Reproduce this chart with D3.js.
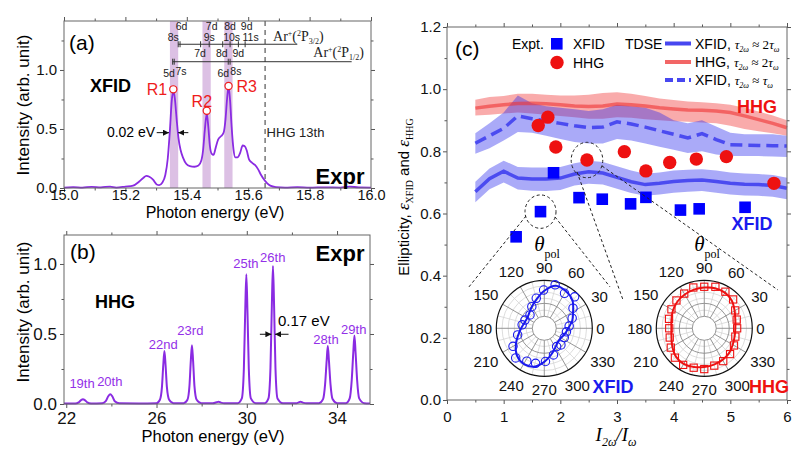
<!DOCTYPE html>
<html>
<head>
<meta charset="utf-8">
<script src="https://cdn.jsdelivr.net/npm/d3@7"></script>
<style>
  body { margin: 0; background: #fff; }
  svg { font-family: "Liberation Sans", Arial, sans-serif; }
  .serif { font-family: "Liberation Serif", "Times New Roman", serif; }
</style>
</head>
<body>
<svg id="chart" width="800" height="459"></svg>
<script>
// ---------- panel (a): XFID spectrum ----------
const xfidSpectrum = [
  [15.00,0.004],[15.03,0.008],[15.06,0.003],[15.09,0.010],[15.12,0.006],[15.15,0.012],[15.17,0.004],
  [15.20,0.012],[15.225,0.020],[15.245,0.055],[15.258,0.085],[15.268,0.102],[15.278,0.095],[15.29,0.070],
  [15.302,0.030],[15.31,0.025],[15.32,0.045],[15.33,0.110],[15.338,0.250],[15.345,0.490],[15.351,0.740],
  [15.356,0.820],[15.361,0.760],[15.367,0.580],[15.373,0.420],[15.38,0.320],[15.388,0.255],[15.398,0.205],
  [15.41,0.185],[15.425,0.180],[15.438,0.190],[15.447,0.230],[15.453,0.320],[15.459,0.500],[15.465,0.633],
  [15.470,0.520],[15.475,0.360],[15.481,0.290],[15.487,0.280],[15.494,0.340],[15.502,0.410],[15.512,0.440],
  [15.52,0.470],[15.526,0.580],[15.531,0.750],[15.536,0.860],[15.541,0.740],[15.546,0.520],[15.552,0.330],
  [15.558,0.260],[15.565,0.260],[15.574,0.300],[15.582,0.360],[15.588,0.355],[15.595,0.320],[15.603,0.240],
  [15.612,0.215],[15.622,0.195],[15.632,0.160],[15.642,0.110],[15.652,0.070],[15.662,0.040],[15.672,0.020],
  [15.69,0.008],[15.72,0.004],[15.76,0.007],[15.80,0.003],[15.85,0.006],[15.90,0.004],[15.93,0.012],
  [15.96,0.005],[16.00,0.004]
];
const resonanceBands = [[15.345,15.372],[15.451,15.478],[15.522,15.549]];
const resonanceMarks = [["R1",15.356,0.836,15.303,0.788],["R2",15.465,0.655,15.449,0.690],["R3",15.536,0.864,15.595,0.814]];
const hhg13thEnergy = 15.655;
// Ar Rydberg ladder (energies in eV)
const upperBar = [15.372, 15.760];
const lowerBar = [15.354, 15.937];
const upperTicks = [15.372, 15.378, 15.445, 15.473, 15.517, 15.541, 15.568, 15.590];
const lowerTicks = [15.354, 15.359, 15.535, 15.541];
const upperTopLabels = [["6d",15.383],["7d",15.481],["8d",15.541],["9d",15.595]];
const upperMidLabels = [["8s",15.356],["9s",15.473],["10s",15.546],["11s",15.608]];
const betweenLabels = [["7d",15.443],["8d",15.514],["9d",15.568]];
const lowerLabels = [["5d",15.342,15.5],["7s",15.381,13],["6d",15.519,15.5],["8s",15.560,13]];

// ---------- panel (b): HHG spectrum ----------
const hhgSpectrum = [
  [21.9,0.003],[22.4,0.004],[22.55,0.012],[22.66,0.028],[22.74,0.034],[22.82,0.028],[22.93,0.012],[23.1,0.004],
  [23.6,0.006],[23.75,0.020],[23.86,0.055],[23.95,0.070],[24.04,0.055],[24.15,0.020],[24.35,0.005],[25.2,0.004],
  [26.0,0.006],[26.15,0.030],[26.24,0.120],[26.30,0.280],[26.35,0.379],[26.40,0.280],[26.46,0.120],[26.56,0.030],
  [26.75,0.006],[27.2,0.006],[27.37,0.030],[27.46,0.130],[27.52,0.310],[27.57,0.420],[27.62,0.310],[27.68,0.130],
  [27.78,0.030],[27.98,0.006],[28.5,0.005],[28.65,0.012],[28.75,0.016],[28.85,0.010],[29.0,0.005],[29.6,0.006],
  [29.78,0.040],[29.87,0.250],[29.93,0.660],[29.98,0.926],[30.03,0.660],[30.09,0.250],[30.18,0.040],[30.4,0.006],
  [30.8,0.006],[30.96,0.040],[31.05,0.260],[31.11,0.700],[31.16,0.986],[31.21,0.700],[31.27,0.260],[31.36,0.040],
  [31.6,0.006],[32.2,0.005],[32.3,0.012],[32.38,0.016],[32.48,0.010],[32.65,0.005],[33.2,0.006],[33.38,0.035],
  [33.47,0.140],[33.54,0.310],[33.59,0.414],[33.64,0.310],[33.71,0.140],[33.80,0.035],[34.0,0.006],[34.4,0.006],
  [34.56,0.040],[34.65,0.170],[34.72,0.370],[34.77,0.490],[34.82,0.370],[34.89,0.170],[34.98,0.040],[35.2,0.006],
  [35.46,0.004]
];
const harmonicLabels = [["19th",22.70,0.114],["20th",23.93,0.129],["22nd",26.30,0.393],["23rd",27.50,0.493],
  ["25th",29.96,0.969],["26th",31.15,1.016],["28th",33.51,0.426],["29th",34.74,0.498]];

// ---------- panel (c): ellipticity ----------
const xfidExptRatio = [1.22, 1.65, 1.88, 2.33, 2.74, 3.24, 3.51, 4.12, 4.45, 5.26];
const xfidExptEll   = [0.525, 0.606, 0.731, 0.651, 0.646, 0.631, 0.652, 0.611, 0.615, 0.620];
const hhgExptRatio  = [1.61, 1.78, 1.92, 2.47, 3.13, 3.51, 3.93, 4.40, 4.93, 5.77];
const hhgExptEll    = [0.883, 0.910, 0.814, 0.772, 0.799, 0.737, 0.764, 0.775, 0.783, 0.697];

const tdseRatio = [0.5,0.75,1.0,1.25,1.5,1.75,2.0,2.25,2.5,2.75,3.0,3.25,3.5,3.75,4.0,4.25,4.5,4.75,5.0,5.25,5.5,5.75,6.0];
const xfid2Ell   = [0.670,0.712,0.736,0.714,0.711,0.711,0.714,0.727,0.734,0.730,0.716,0.702,0.693,0.697,0.703,0.706,0.708,0.703,0.697,0.694,0.693,0.690,0.681];
const xfid2Upper = [0.702,0.745,0.770,0.750,0.748,0.748,0.750,0.762,0.770,0.766,0.752,0.738,0.728,0.732,0.738,0.741,0.742,0.738,0.732,0.729,0.727,0.724,0.715];
const xfid2Lower = [0.636,0.678,0.700,0.677,0.673,0.672,0.676,0.690,0.696,0.693,0.680,0.666,0.657,0.661,0.667,0.670,0.672,0.667,0.661,0.658,0.657,0.654,0.646];
const xfid1Ell   = [0.826,0.850,0.874,0.914,0.905,0.898,0.890,0.882,0.876,0.878,0.895,0.888,0.878,0.866,0.855,0.843,0.857,0.838,0.821,0.820,0.819,0.818,0.817];
const xfid1Upper = [0.858,0.890,0.925,0.980,0.955,0.945,0.940,0.935,0.930,0.935,0.950,0.945,0.940,0.925,0.900,0.890,0.900,0.880,0.860,0.855,0.855,0.855,0.850];
const xfid1Lower = [0.792,0.810,0.835,0.862,0.860,0.850,0.840,0.830,0.825,0.825,0.840,0.835,0.825,0.815,0.805,0.795,0.800,0.790,0.785,0.785,0.785,0.783,0.782];
const hhg2Ell    = [0.939,0.945,0.950,0.954,0.955,0.953,0.950,0.946,0.944,0.946,0.952,0.950,0.946,0.940,0.936,0.933,0.932,0.930,0.925,0.914,0.902,0.890,0.876];
const hhg2Upper  = [0.966,0.975,0.978,0.985,0.985,0.982,0.980,0.980,0.982,0.988,0.990,0.985,0.978,0.970,0.965,0.960,0.958,0.955,0.950,0.940,0.928,0.915,0.900];
const hhg2Lower  = [0.915,0.918,0.922,0.925,0.922,0.918,0.914,0.910,0.905,0.905,0.910,0.908,0.903,0.900,0.897,0.895,0.893,0.890,0.882,0.872,0.865,0.858,0.850];

// zoom annotations: [ratio, ellipticity] start -> end
const connectors = [
  [[1.394,0.592],[0.37,0.360]],
  [[1.906,0.589],[2.876,0.364]],
  [[2.294,0.734],[3.106,0.322]],
  [[2.735,0.753],[5.84,0.354]]
];
const polarCentres = [[1.717,0.2307],[4.54,0.2307]];

// polar insets (angle in degrees, normalised radius)
const polarAngles = [0,15,30,45,60,75,90,105,120,135,150,165,180,195,210,225,240,255,270,285,300,315,330,345];
const xfidPolarFit = [0.33,0.47,0.59,0.77,0.86,0.89,0.71,0.50,0.36,0.26,0.22,0.24,0.31,0.42,0.58,0.74,0.81,0.77,0.60,0.42,0.28,0.20,0.20,0.26];
const hhgPolarFit  = [0.53,0.56,0.64,0.75,0.81,0.82,0.80,0.78,0.75,0.72,0.67,0.61,0.58,0.61,0.69,0.78,0.81,0.78,0.74,0.71,0.68,0.64,0.58,0.54];
const xfidPolarAng = [5,20,35,46,60,76,91,105,120,137,157,171,194,210,226,242,256,272,289,304,315,335,351];
const xfidPolarPts = [0.36,0.49,0.64,0.88,0.79,0.91,0.73,0.53,0.36,0.21,0.25,0.29,0.43,0.67,0.81,0.70,0.67,0.59,0.45,0.28,0.32,0.28,0.29];
const hhgPolarPts  = [0.58,0.60,0.66,0.80,0.84,0.86,0.82,0.84,0.78,0.76,0.72,0.68,0.64,0.66,0.74,0.82,0.84,0.80,0.80,0.74,0.72,0.68,0.62,0.56];
const polarTickAngles = [0,30,60,90,120,150,180,210,240,270,300,330];

// ---------- helpers ----------
const svg = d3.select("#chart");
const purple = "#8a2be2";

function drawFrame(x, y, o) {
  const [xl, xr] = x.range(), [yb, yt] = y.range();
  const none = () => "";
  const ax = (axis, tr, vals, size, fmt, pad, fs) => {
    const a = svg.append("g").attr("transform", tr)
      .call(axis.tickValues(vals).tickSize(size).tickPadding(pad).tickFormat(fmt));
    a.select(".domain").remove();
    a.attr("font-family", null).attr("font-size", fs || o.fs).attr("color", "#555");
    a.selectAll("text").attr("fill", "#111");
    return a;
  };
  ax(d3.axisBottom(x), `translate(0,${yb})`, o.xMajor, 4, o.xFmt, o.xPad, o.xfs);
  ax(d3.axisBottom(x), `translate(0,${yb})`, o.xMinor, 2.5, none, 0);
  ax(d3.axisTop(x), `translate(0,${yt})`, o.xMajor, 4, none, 0);
  ax(d3.axisTop(x), `translate(0,${yt})`, o.xMinor, 2.5, none, 0);
  ax(d3.axisLeft(y), `translate(${xl},0)`, o.yMajor, 4, o.yFmt, o.yPad);
  ax(d3.axisLeft(y), `translate(${xl},0)`, o.yMinor, 2.5, none, 0);
  ax(d3.axisRight(y), `translate(${xr},0)`, o.yMajor, 4, none, 0);
  ax(d3.axisRight(y), `translate(${xr},0)`, o.yMinor, 2.5, none, 0);
  svg.append("rect").attr("x", xl).attr("y", yt).attr("width", xr - xl).attr("height", yb - yt)
    .attr("fill", "none").attr("stroke", "#666").attr("stroke-width", 1);
}

const defs = svg.append("defs");
defs.append("marker").attr("id", "arr").attr("viewBox", "0 0 10 10").attr("refX", 10).attr("refY", 5)
  .attr("markerWidth", 6).attr("markerHeight", 6).attr("orient", "auto")
  .append("path").attr("d", "M0,0L10,5L0,10z").attr("fill", "#111");

function arrow(x1, y1, x2, y2) {
  svg.append("line").attr("x1", x1).attr("y1", y1).attr("x2", x2).attr("y2", y2)
    .attr("stroke", "#111").attr("stroke-width", 1).attr("marker-end", "url(#arr)");
}

// ---------- panel (a) ----------
const xa = d3.scaleLinear([15, 16], [64, 371]);
const ya = d3.scaleLinear([0, 1.415], [188, 21]);

svg.selectAll(".band").data(resonanceBands).enter().append("rect")
  .attr("x", d => xa(d[0])).attr("width", d => xa(d[1]) - xa(d[0]))
  .attr("y", ya(1.415)).attr("height", ya(0) - ya(1.415)).attr("fill", "#dcc0e4");

svg.append("line").attr("x1", xa(hhg13thEnergy)).attr("x2", xa(hhg13thEnergy))
  .attr("y1", ya(1.415)).attr("y2", ya(0)).attr("stroke", "#555").attr("stroke-width", 1.2)
  .attr("stroke-dasharray", "5,4");

svg.append("path").datum(xfidSpectrum)
  .attr("d", d3.line().x(d => xa(d[0])).y(d => ya(d[1])).curve(d3.curveMonotoneX))
  .attr("fill", "none").attr("stroke", purple).attr("stroke-width", 1.8);

// Rydberg ladder
const yU = ya(1.218), yL = ya(1.070);
[[upperBar, yU], [lowerBar, yL]].forEach(([b, yy]) => {
  svg.append("line").attr("x1", xa(b[0])).attr("x2", xa(b[1])).attr("y1", yy).attr("y2", yy)
    .attr("stroke", "#333").attr("stroke-width", 1);
});
[[upperTicks, yU], [lowerTicks, yL]].forEach(([t, yy]) => {
  svg.selectAll(null).data(t).enter().append("line")
    .attr("x1", d => xa(d)).attr("x2", d => xa(d)).attr("y1", yy - 3).attr("y2", yy + 3)
    .attr("stroke", "#333").attr("stroke-width", 1);
});
const ladderText = (arr, yy, dy) => svg.selectAll(null).data(arr).enter().append("text")
  .attr("x", d => xa(d[1])).attr("y", d => yy + (d[2] !== undefined ? d[2] : dy))
  .attr("text-anchor", "middle").attr("font-size", 10.5).attr("fill", "#222").text(d => d[0]);
ladderText(upperTopLabels, yU, -14.5);
ladderText(upperMidLabels, yU, -3.5);
ladderText(betweenLabels, yU, 12.5);
ladderText(lowerLabels, yL, 0);

function arLabel(x, y, j) {
  const t = svg.append("text").attr("class", "serif").attr("x", x).attr("y", y).attr("font-size", 14).attr("fill", "#222");
  t.append("tspan").text("Ar");
  t.append("tspan").attr("font-size", 8).attr("dy", -5).text("+");
  t.append("tspan").attr("dy", 5).text("(");
  t.append("tspan").attr("font-size", 8).attr("dy", -5).text("2");
  t.append("tspan").attr("dy", 5).text("P");
  t.append("tspan").attr("font-size", 8).attr("dy", 3).text(j);
  t.append("tspan").attr("dy", -3).text(")");
}
arLabel(xa(15.681), yU - 3, "3/2");
arLabel(xa(15.812), yL - 4.5, "1/2");

svg.selectAll(null).data(resonanceMarks).enter().append("circle")
  .attr("cx", d => xa(d[1])).attr("cy", d => ya(d[2])).attr("r", 3.6)
  .attr("fill", "#fff").attr("stroke", "#ee1c1c").attr("stroke-width", 1.2);
svg.selectAll(null).data(resonanceMarks).enter().append("text")
  .attr("x", d => xa(d[3])).attr("y", d => ya(d[4])).attr("text-anchor", "middle")
  .attr("font-size", 16).attr("fill", "#ee1c1c").text(d => d[0]);

drawFrame(xa, ya, { fs: 15, xfs: 14.5, xMajor: d3.range(15, 16.01, 0.2), xMinor: d3.range(15.1, 16, 0.2),
  yMajor: [0, 0.5, 1.0], yMinor: [0.25, 0.75, 1.25], xFmt: d3.format(".1f"), yFmt: d3.format(".1f"), xPad: -2, yPad: 3 });

svg.append("text").attr("x", 69).attr("y", 50).attr("font-size", 21).text("(a)");
svg.append("text").attr("x", 90).attr("y", 92).attr("font-size", 18).attr("font-weight", "bold").text("XFID");
svg.append("text").attr("x", 340).attr("y", 184).attr("text-anchor", "middle").attr("font-size", 22).attr("font-weight", "bold").text("Expr");
svg.append("text").attr("x", xa(15.66)).attr("y", ya(0.432)).attr("font-size", 13).attr("fill", "#222").text("HHG 13th");
svg.append("text").attr("x", xa(15.297)).attr("y", ya(0.428)).attr("text-anchor", "end").attr("font-size", 14).text("0.02 eV");
arrow(xa(15.302), ya(0.469), xa(15.342), ya(0.469));
arrow(xa(15.405), ya(0.469), xa(15.372), ya(0.469));
svg.append("text").attr("x", 215).attr("y", 218).attr("text-anchor", "middle").attr("font-size", 16).text("Photon energy (eV)");
svg.append("text").attr("transform", "translate(29,105) rotate(-90)").attr("text-anchor", "middle").attr("font-size", 17).text("Intensity (arb. unit)");

// ---------- panel (b) ----------
const xb = d3.scaleLinear([21.9, 35.46], [64, 370]);
const yb = d3.scaleLinear([0, 1.207], [404, 235]);

svg.append("path").datum(hhgSpectrum)
  .attr("d", d3.line().x(d => xb(d[0])).y(d => yb(d[1])).curve(d3.curveMonotoneX))
  .attr("fill", "none").attr("stroke", purple).attr("stroke-width", 2);

svg.selectAll(null).data(harmonicLabels).enter().append("text")
  .attr("x", d => xb(d[1])).attr("y", d => yb(d[2])).attr("text-anchor", "middle")
  .attr("font-size", 13).attr("fill", "#9330e8").text(d => d[0]);

drawFrame(xb, yb, { fs: 17, xMajor: [22, 26, 30, 34], xMinor: [24, 28, 32],
  yMajor: [0, 0.5, 1.0], yMinor: [0.25, 0.75], xFmt: d3.format("d"), yFmt: d3.format(".1f"), xPad: 4, yPad: 3 });

svg.append("text").attr("x", 70).attr("y", 259).attr("font-size", 21).text("(b)");
svg.append("text").attr("x", 115).attr("y", 308).attr("text-anchor", "middle").attr("font-size", 18).attr("font-weight", "bold").text("HHG");
svg.append("text").attr("x", 340).attr("y", 261).attr("text-anchor", "middle").attr("font-size", 22).attr("font-weight", "bold").text("Expr");
svg.append("text").attr("x", 278).attr("y", yb(0.557)).attr("font-size", 15).text("0.17 eV");
arrow(xb(30.58), yb(0.498), xb(31.09), yb(0.498));
arrow(xb(31.85), yb(0.498), xb(31.25), yb(0.498));
svg.append("text").attr("x", 213).attr("y", 442).attr("text-anchor", "middle").attr("font-size", 16.5).text("Photon energy (eV)");
svg.append("text").attr("transform", "translate(29,312) rotate(-90)").attr("text-anchor", "middle").attr("font-size", 17).text("Intensity (arb. unit)");

// ---------- panel (c) ----------
const xc = d3.scaleLinear([0, 6], [447, 787]);
const yc = d3.scaleLinear([0, 1.2], [400, 27]);

const area = (lo, hi) => d3.area().x((d, i) => xc(tdseRatio[i])).y0((d, i) => yc(lo[i])).y1((d, i) => yc(hi[i]));
const line = vals => d3.line().x((d, i) => xc(tdseRatio[i])).y((d, i) => yc(vals[i]));

svg.append("path").datum(tdseRatio).attr("d", area(hhg2Lower, hhg2Upper)).attr("fill", "#ee2222").attr("opacity", 0.38);
svg.append("path").datum(tdseRatio).attr("d", area(xfid1Lower, xfid1Upper)).attr("fill", "#2a2aee").attr("opacity", 0.4);
svg.append("path").datum(tdseRatio).attr("d", area(xfid2Lower, xfid2Upper)).attr("fill", "#2a2aee").attr("opacity", 0.4);
svg.append("path").datum(tdseRatio).attr("d", line(hhg2Ell)).attr("fill", "none").attr("stroke", "#ee3333").attr("stroke-opacity", 0.6).attr("stroke-width", 3.5);
svg.append("path").datum(tdseRatio).attr("d", line(xfid1Ell)).attr("fill", "none").attr("stroke", "#3333ee").attr("stroke-opacity", 0.8).attr("stroke-width", 3.5).attr("stroke-dasharray", "12,6");
svg.append("path").datum(tdseRatio).attr("d", line(xfid2Ell)).attr("fill", "none").attr("stroke", "#3333ee").attr("stroke-opacity", 0.8).attr("stroke-width", 3.5);

svg.selectAll(null).data(xfidExptRatio).enter().append("rect")
  .attr("x", (d, i) => xc(d) - 5.8).attr("y", (d, i) => yc(xfidExptEll[i]) - 5.8)
  .attr("width", 11.6).attr("height", 11.6).attr("fill", "#0000ff");
svg.selectAll(null).data(hhgExptRatio).enter().append("circle")
  .attr("cx", d => xc(d)).attr("cy", (d, i) => yc(hhgExptEll[i])).attr("r", 6.7).attr("fill", "#ee1111");

// dashed zoom ellipses around the two sampled points
[[xfidExptRatio[1], xfidExptEll[1], 15.5, 16.7], [hhgExptRatio[3], hhgExptEll[3], 15.8, 17.7]].forEach(e => {
  svg.append("ellipse").attr("cx", xc(e[0])).attr("cy", yc(e[1])).attr("rx", e[2]).attr("ry", e[3])
    .attr("fill", "none").attr("stroke", "#222").attr("stroke-width", 1).attr("stroke-dasharray", "3,2.5");
});
svg.selectAll(null).data(connectors).enter().append("line")
  .attr("x1", d => xc(d[0][0])).attr("y1", d => yc(d[0][1])).attr("x2", d => xc(d[1][0])).attr("y2", d => yc(d[1][1]))
  .attr("stroke", "#222").attr("stroke-width", 1).attr("stroke-dasharray", "3,2.5");

drawFrame(xc, yc, { fs: 15, xMajor: d3.range(0, 7), xMinor: d3.range(0.5, 6, 1),
  yMajor: d3.range(0, 1.21, 0.2), yMinor: d3.range(0.1, 1.2, 0.2), xFmt: d3.format("d"), yFmt: d3.format(".1f"), xPad: 7, yPad: 2 });

// polar insets
const rr = d3.scaleLinear([0, 1], [12, 48]);
const rad = a => a * Math.PI / 180;
function drawPolar(centre, fit, ang, pts, color, square) {
  const cx = xc(centre[0]), cy = yc(centre[1]);
  const g = svg.append("g");
  g.append("circle").attr("cx", cx).attr("cy", cy).attr("r", rr(1)).attr("fill", "#fff");
  [0.17, 0.5, 0.67, 0.84].forEach(v => g.append("circle").attr("cx", cx).attr("cy", cy).attr("r", rr(v))
    .attr("fill", "none").attr("stroke", "#d4d4d4").attr("stroke-width", 0.8));
  d3.range(15, 360, 30).forEach(a => g.append("line")
    .attr("x1", cx + rr(0) * Math.cos(rad(a))).attr("y1", cy - rr(0) * Math.sin(rad(a)))
    .attr("x2", cx + rr(1) * Math.cos(rad(a))).attr("y2", cy - rr(1) * Math.sin(rad(a)))
    .attr("stroke", "#d4d4d4").attr("stroke-width", 0.8));
  polarTickAngles.forEach(a => g.append("line")
    .attr("x1", cx + rr(0) * Math.cos(rad(a))).attr("y1", cy - rr(0) * Math.sin(rad(a)))
    .attr("x2", cx + rr(1) * Math.cos(rad(a))).attr("y2", cy - rr(1) * Math.sin(rad(a)))
    .attr("stroke", "#8a8a8a").attr("stroke-width", 0.9));
  [0, 0.36].forEach(v => g.append("circle").attr("cx", cx).attr("cy", cy).attr("r", rr(v))
    .attr("fill", "none").attr("stroke", "#8a8a8a").attr("stroke-width", 0.9));
  g.append("circle").attr("cx", cx).attr("cy", cy).attr("r", rr(1)).attr("fill", "none").attr("stroke", "#111").attr("stroke-width", 1.2);
  g.append("path").datum(polarAngles)
    .attr("d", d3.line().x((a, i) => cx + rr(fit[i]) * Math.cos(rad(a))).y((a, i) => cy - rr(fit[i]) * Math.sin(rad(a)))
      .curve(d3.curveCatmullRomClosed))
    .attr("fill", "none").attr("stroke", color).attr("stroke-width", 2);
  ang.forEach((a, i) => {
    const px = cx + rr(pts[i]) * Math.cos(rad(a)), py = cy - rr(pts[i]) * Math.sin(rad(a));
    if (square) g.append("rect").attr("x", px - 3.6).attr("y", py - 3.6).attr("width", 7.2).attr("height", 7.2)
      .attr("fill", "none").attr("stroke", color).attr("stroke-width", 1.1);
    else g.append("circle").attr("cx", px).attr("cy", py).attr("r", 4.2)
      .attr("fill", "none").attr("stroke", color).attr("stroke-width", 1.1);
  });
  polarTickAngles.forEach(a => {
    const s = String(a), hw = 4.2 * s.length;
    const r = 52 + hw * Math.abs(Math.cos(rad(a))) + 9 * Math.abs(Math.sin(rad(a)));
    g.append("text").attr("x", cx + r * Math.cos(rad(a))).attr("y", cy - r * Math.sin(rad(a)))
      .attr("text-anchor", "middle").attr("dominant-baseline", "central").attr("font-size", 15).attr("fill", "#111").text(s);
  });
  const th = g.append("text").attr("class", "serif").attr("x", cx - 10).attr("y", cy - 77).attr("font-size", 21).attr("font-style", "italic");
  th.append("tspan").text("θ");
  th.append("tspan").attr("font-style", "normal").attr("font-size", 12).attr("dy", 7).text("pol");
}
drawPolar(polarCentres[0], xfidPolarFit, xfidPolarAng, xfidPolarPts, "#1a1aee", false);
drawPolar(polarCentres[1], hhgPolarFit, polarAngles, hhgPolarPts, "#ee1111", true);

// panel (c) labels and legend
svg.append("text").attr("x", 455).attr("y", 56).attr("font-size", 21).text("(c)");
svg.append("text").attr("x", 757).attr("y", 113).attr("text-anchor", "middle").attr("font-size", 18).attr("font-weight", "bold").attr("fill", "#ee1111").text("HHG");
svg.append("text").attr("x", 752).attr("y", 230).attr("text-anchor", "middle").attr("font-size", 18).attr("font-weight", "bold").attr("fill", "#1a1aee").text("XFID");
svg.append("text").attr("x", 613).attr("y", 393).attr("text-anchor", "middle").attr("font-size", 18).attr("font-weight", "bold").attr("fill", "#1a1aee").text("XFID");
svg.append("text").attr("x", 769).attr("y", 393).attr("text-anchor", "middle").attr("font-size", 18).attr("font-weight", "bold").attr("fill", "#ee1111").text("HHG");

svg.append("text").attr("x", 512).attr("y", 49).attr("font-size", 14).text("Expt.");
svg.append("rect").attr("x", 551).attr("y", 38).attr("width", 11.6).attr("height", 11.6).attr("fill", "#0000ff");
svg.append("text").attr("x", 573).attr("y", 49).attr("font-size", 14).text("XFID");
svg.append("circle").attr("cx", 557).attr("cy", 62.5).attr("r", 6.7).attr("fill", "#ee1111");
svg.append("text").attr("x", 573).attr("y", 67.5).attr("font-size", 14).text("HHG");
svg.append("text").attr("x", 625).attr("y", 49).attr("font-size", 14).text("TDSE");

const legendRows = [
  ["XFID, ", "2", "#3333ee", null, 43.5],
  ["HHG, ", "2", "#ee3333", null, 62],
  ["XFID, ", "", "#3333ee", "8,4", 80]
];
legendRows.forEach(r => {
  svg.append("line").attr("x1", 665).attr("x2", 691).attr("y1", r[4]).attr("y2", r[4])
    .attr("stroke", r[2]).attr("stroke-width", 4).attr("stroke-opacity", r[2] === "#ee3333" ? 0.75 : 0.9)
    .attr("stroke-dasharray", r[3]);
  const t = svg.append("text").attr("x", 695).attr("y", r[4] + 5).attr("font-size", 14);
  t.append("tspan").text(r[0]);
  t.append("tspan").attr("class", "serif").attr("font-style", "italic").attr("font-size", 13).text("τ");
  t.append("tspan").attr("class", "serif").attr("font-style", "italic").attr("font-size", 8).attr("dy", 3).text("2ω");
  t.append("tspan").attr("class", "serif").attr("font-size", 13).attr("dy", -3).text(" ≈ " + r[1]);
  t.append("tspan").attr("class", "serif").attr("font-style", "italic").attr("font-size", 13).text("τ");
  t.append("tspan").attr("class", "serif").attr("font-style", "italic").attr("font-size", 8).attr("dy", 3).text("ω");
});

// axis titles (c)
const xt = svg.append("text").attr("class", "serif").attr("x", 616).attr("y", 441).attr("text-anchor", "middle")
  .attr("font-size", 19).attr("font-style", "italic");
xt.append("tspan").text("I");
xt.append("tspan").attr("font-size", 12).attr("dy", 5).text("2ω");
xt.append("tspan").attr("dy", -5).text("/");
xt.append("tspan").text("I");
xt.append("tspan").attr("font-size", 12).attr("dy", 5).text("ω");

const yt = svg.append("text").attr("transform", "translate(409,197) rotate(-90)").attr("text-anchor", "middle").attr("font-size", 15);
yt.append("tspan").text("Ellipticity, ");
yt.append("tspan").attr("class", "serif").attr("font-style", "italic").attr("font-size", 17).text("ε");
yt.append("tspan").attr("class", "serif").attr("font-size", 10).attr("dy", 4).text("XFID");
yt.append("tspan").attr("dy", -4).text(" and ");
yt.append("tspan").attr("class", "serif").attr("font-style", "italic").attr("font-size", 17).text("ε");
yt.append("tspan").attr("class", "serif").attr("font-size", 10).attr("dy", 4).text("HHG");
</script>
</body>
</html>
